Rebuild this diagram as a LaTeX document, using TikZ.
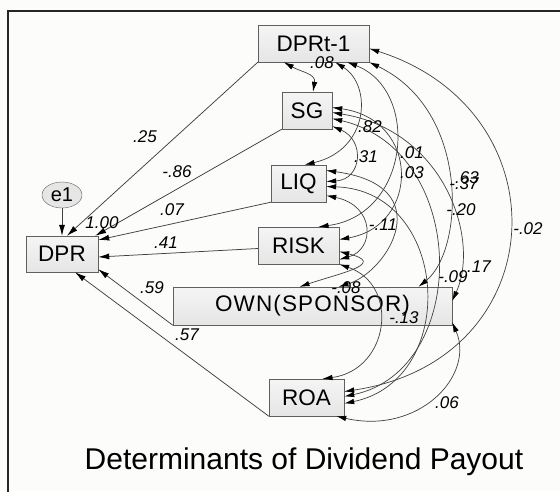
\documentclass[tikz,border=0pt]{standalone}
\usepackage{fontspec}
\setmainfont{Liberation Sans}
\usetikzlibrary{arrows.meta,shapes.geometric,calc,backgrounds}
\definecolor{pagebg}{HTML}{FCFCFA}
\definecolor{boxfill}{HTML}{E6E6E6}
\definecolor{linegray}{HTML}{404040}
\newcommand{\estfont}{\fontsize{17}{17}\selectfont\itshape}

\begin{document}
\begin{tikzpicture}[x=1pt,y=-1pt,
        obsbox/.style={draw=gray!75!black,top color=gray!8,bottom color=gray!20,minimum height=37pt,inner sep=0pt,
                       font=\fontsize{22.5}{24}\selectfont},
        regr/.style={draw=linegray,line width=0.75pt,-{Latex[length=11pt,width=6pt,color=black]}},
        cov/.style={draw=linegray,line width=0.7pt,{Latex[length=10pt,width=5.5pt,color=black]}-{Latex[length=10pt,width=5.5pt,color=black]}},
        est/.style={font=\estfont,inner sep=0pt}
    ]
    \useasboundingbox (0,0) rectangle (560,491);
    \fill[pagebg] (0,0) rectangle (560,491);
    \draw[line width=2.6pt,black!85] (8,520) -- (8,11) -- (580,11);

    \node[obsbox,minimum width=111pt] (dprt) at (313.5,43.5) {DPRt-1};
    \node[obsbox,minimum width=50pt]  (sg)   at (307,110.5)  {SG};
    \node[obsbox,minimum width=55pt]  (liq)  at (298.5,183.5) {LIQ};
    \node[obsbox,minimum width=81pt]  (risk) at (298.5,245.5) {RISK};
    \node[obsbox,minimum width=279pt,minimum height=38pt] (own) at (312.5,306)
        {\addfontfeature{LetterSpace=5}OWN(SPONSOR)};
    \node[obsbox,minimum width=75pt]  (roa)  at (306.5,397.5) {ROA};
    \node[obsbox,minimum width=72pt,minimum height=36pt] (dpr) at (62,254) {DPR};
    \node[ellipse,draw=gray!75!black,fill=boxfill,minimum width=40pt,minimum height=26pt,
          inner sep=-3pt,font=\fontsize{20}{20}\selectfont] (e1) at (62,195) {e1};
    \node[font=\fontsize{30}{30}\selectfont] (title) at (304,462) {Determinants of Dividend Payout};

    % regression weights
    \draw[regr] (dprt.south west) -- ($(dpr.north)+(5,0)$);
    \draw[regr] (e1) -- (dpr);
    \draw[regr] (sg.south west) -- ($(dpr.north east)+(-3,0)$);
    \draw[regr] (liq.south west) -- ($(dpr.east)+(0,-14)$);
    \draw[regr] ($(risk.west)+(0,3)$) -- ($(dpr.east)+(0,3)$);
    \draw[regr] (own.south west) -- ($(dpr.south east)+(0,-3)$);
    \draw[regr] (roa.south west) -- ($(dpr.south)+(13,0)$);

    \node[est] (w25)  at (145,137) {.25};
    \node[est] (w86)  at (177,172) {-.86};
    \node[est] (w07)  at (172,210) {.07};
    \node[est] (w100) at (102,223) {1.00};
    \node[est] (w41)  at (166,243) {.41};
    \node[est] (w59)  at (152,288) {.59};
    \node[est] (w57)  at (187,335) {.57};

    % covariances
    \draw[cov] ($(dprt.south west)+(26,0)$) .. controls +(18,10) and +(3,-18) .. ($(sg.north)+(6,0)$);
    \draw[cov] ($(dprt.south east)+(-34,0)$) .. controls +(37,23) and +(65,-15) .. ($(liq.north)+(6,0)$);
    \draw[cov] ($(dprt.south east)+(-22,0)$) .. controls +(73,28) and +(92,-12) .. ($(risk.north)+(20,0)$);
    \draw[cov] (dprt.south east) .. controls +(101,48) and +(46,-37) .. ($(own.north)+(106,0)$);
    \draw[cov] ($(dprt.east)+(0,5)$) .. controls +(196,62) and +(211,-31) .. ($(roa.east)+(0,-6)$);
    \draw[cov] ($(sg.south east)+(0,-3)$) .. controls +(33,14) and +(36,-2) .. ($(liq.east)+(0,-2)$);
    \draw[cov] ($(sg.east)+(0,-3)$) .. controls +(88,12) and +(81,-14) .. ($(risk.east)+(0,-6)$);
    \draw[cov] ($(sg.east)+(0,2)$) .. controls +(113,18) and +(28,-61) .. ($(own.east)+(0,-5)$);
    \draw[cov] ($(sg.east)+(0,8)$) .. controls +(138,32) and +(126,-26) .. ($(roa.east)+(0,-1)$);
    \draw[cov] ($(liq.east)+(0,12)$) .. controls +(49,10) and +(36,-10) .. ($(risk.east)+(0,14)$);
    \draw[cov] ($(liq.east)+(0,-13)$) .. controls +(114,15) and +(50,-15) .. ($(own.north)+(26,0)$);
    \draw[cov] ($(liq.east)+(0,3)$) .. controls +(124,4) and +(116,-24) .. ($(roa.east)+(0,6)$);
    \draw[cov] ($(risk.east)+(0,6)$) .. controls +(48,12) and +(42,-14) .. ($(own.north)+(-13,0)$);
    \draw[cov] (risk.south east) .. controls +(61,21) and +(67,-9) .. ($(roa.north)+(16,0)$);
    \draw[cov] ($(roa.south east)+(-8,0)$) .. controls +(83,19) and +(23,53) .. ($(own.south east)+(0,-3)$);

    \node[est] (c08a) at (322,63)  {.08};
    \node[est] (c82)  at (370,127) {.82};
    \node[est] (c31)  at (366,157) {.31};
    \node[est] (c01)  at (412,153) {.01};
    \node[est] (c03)  at (412,173) {.03};
    \node[est] (c63)  at (467,178) {.63};
    \node[est] (c37)  at (464,184) {-.37};
    \node[est] (c20)  at (461,210) {-.20};
    \node[est] (c11)  at (383,225) {-.11};
    \node[est] (c02)  at (528,229) {-.02};
    \node[est] (c17)  at (479,267) {.17};
    \node[est] (c09)  at (453,277) {-.09};
    \node[est] (c08b) at (346,288) {-.08};
    \node[est] (c13)  at (404,318) {-.13};
    \node[est] (c06)  at (447,403) {.06};
\end{tikzpicture}
\end{document}
